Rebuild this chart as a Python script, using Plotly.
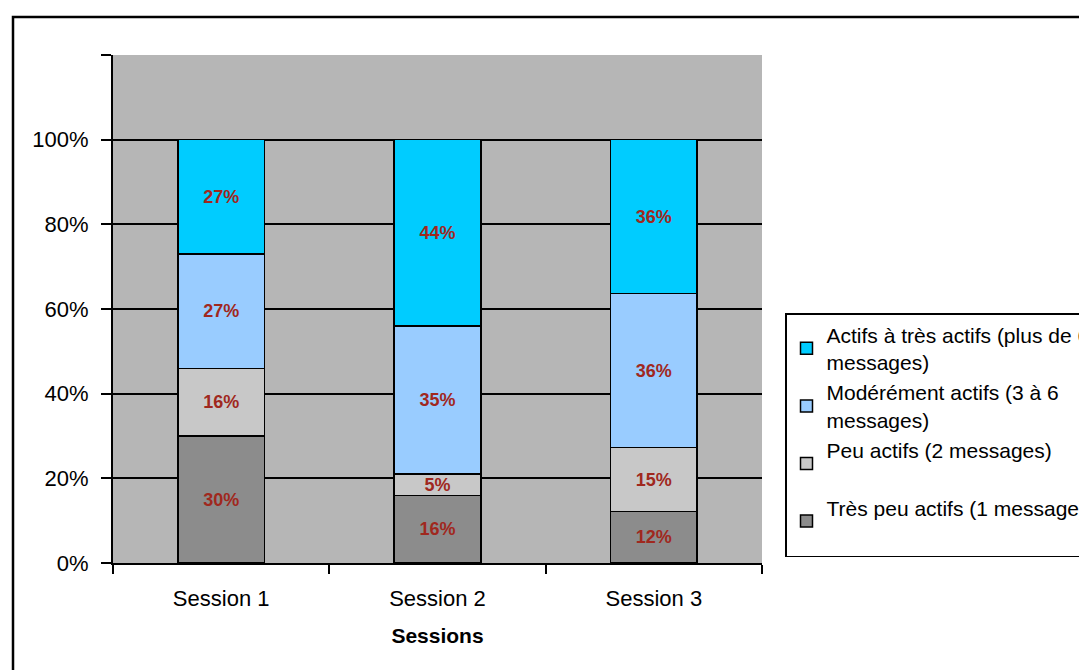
import plotly.graph_objects as go

sessions = ["Session 1", "Session 2", "Session 3"]
x_pos = [1, 2, 3]

series_names = [
    "Très peu actifs (1 message)<br> ",
    "Peu actifs (2 messages)<br> ",
    "Modérément actifs (3 à 6<br>messages)",
    "Actifs à très actifs (plus de 6<br>messages)",
]
tres_peu = [30, 16, 12]
peu = [16, 5, 15]
moderement = [27, 35, 36]
actifs = [27, 44, 36]
series_values = [tres_peu, peu, moderement, actifs]
series_colors = ["#8C8C8C", "#C8C8C8", "#99CCFF", "#00CCFF"]

y_tickvals = [0, 20, 40, 60, 80, 100]
y_ticktext = ["0%", "20%", "40%", "60%", "80%", "100%"]

FONT = "Liberation Sans, Arial, sans-serif"

fig = go.Figure()
for name, vals, col in zip(series_names, series_values, series_colors):
    fig.add_trace(go.Bar(
        x=x_pos, y=vals, name=name,
        marker=dict(color=col, line=dict(color="black", width=1.5)),
        width=0.4,
        text=[f"{v}%" for v in vals],
        textposition="inside",
        insidetextanchor="middle",
        textangle=0,
        constraintext="none",
        textfont=dict(family=FONT, size=18, color="#A0281E", weight="bold"),
    ))

fig.update_layout(
    barmode="stack",
    barnorm="percent",
    width=1087, height=670,
    margin=dict(l=105, r=333, t=47, b=115, autoexpand=False),
    paper_bgcolor="white",
    plot_bgcolor="#B6B6B6",
    font=dict(family=FONT, size=21, color="black"),
    showlegend=True,
    legend=dict(
        x=(785 - 113) / 649, xanchor="left",
        y=(563 - 313) / 508, yanchor="top",
        traceorder="reversed",
        bgcolor="white",
        bordercolor="black", borderwidth=1.5,
        font=dict(family=FONT, size=21, color="black"),
        tracegroupgap=0,
    ),
    xaxis=dict(
        range=[0.5, 3.5],
        tickvals=x_pos, ticktext=sessions,
        ticks="", showgrid=False, zeroline=False,
        showline=True, linecolor="black", linewidth=2,
        ticklabelstandoff=15,
        tickfont=dict(family=FONT, size=22, color="black"),
        minor=dict(tickvals=[0.5, 1.5, 2.5, 3.5], ticks="outside",
                   ticklen=9, tickwidth=2, tickcolor="black", showgrid=False),
        title=dict(text="<b>Sessions</b>", font=dict(family=FONT, size=21, color="black"),
                   standoff=18),
    ),
    yaxis=dict(
        range=[0, 120],
        tickvals=y_tickvals, ticktext=y_ticktext,
        ticks="outside", ticklen=10, tickwidth=2, tickcolor="black",
        showgrid=True, gridcolor="black", gridwidth=2,
        zeroline=False,
        showline=True, linecolor="black", linewidth=2,
        ticklabelstandoff=8,
        tickfont=dict(family=FONT, size=22, color="black"),
        minor=dict(tickvals=[120], ticks="outside", ticklen=10, tickwidth=2,
                   tickcolor="black", showgrid=False),
    ),
)

# outer chart frame
fig.add_shape(type="rect", xref="paper", yref="paper",
              x0=(13 - 113) / 649, x1=1.7,
              y0=-0.3, y1=(563 - 17) / 508,
              line=dict(color="black", width=2.5), fillcolor="rgba(0,0,0,0)",
              layer="below")

fig.write_html("out.html")
